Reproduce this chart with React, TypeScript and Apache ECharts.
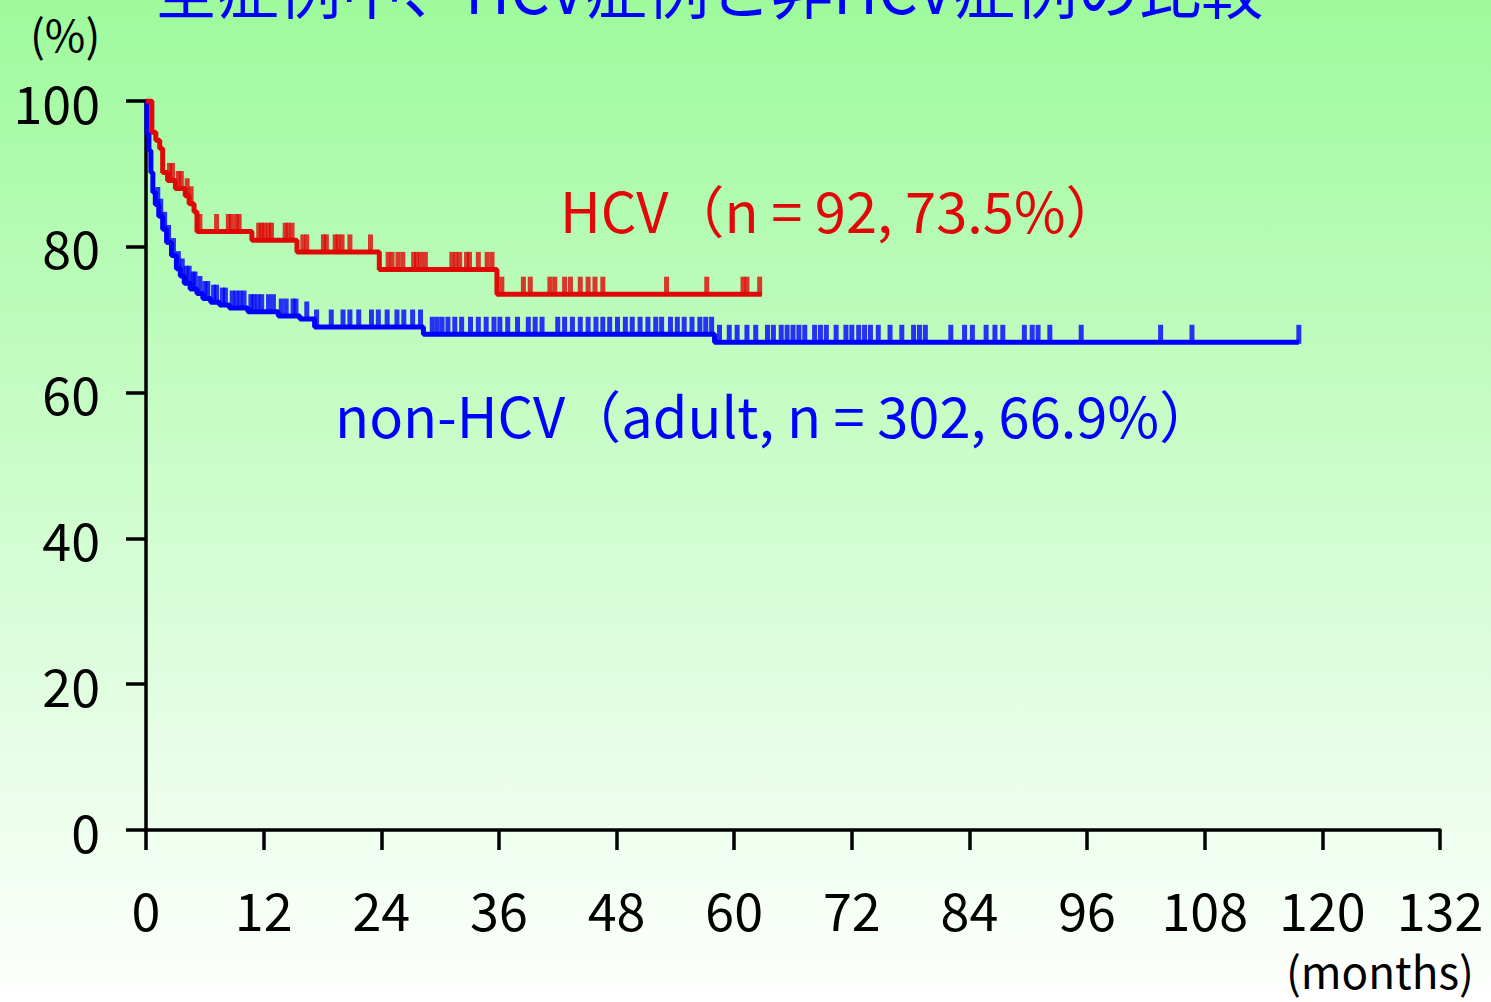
import React, { useEffect, useRef } from "react";
import * as echarts from "echarts";

// ---- data ----
const titleText = "全症例中、HCV症例と非HCV症例の比較";
const yUnitText = "(%)";
const xUnitText = "(months)";
const hcvLabel = "HCV（n = 92, 73.5%）";
const nonHcvLabel = "non-HCV（adult, n = 302, 66.9%）";

const xTickValues = [0, 12, 24, 36, 48, 60, 72, 84, 96, 108, 120, 132];
const yTickValues = [0, 20, 40, 60, 80, 100];

// Kaplan-Meier steps: [month, survival %] (value after the event at that month)
const hcvSteps: [number, number][] = [
  [0, 100], [0.6, 95.7], [1.0, 94.6], [1.4, 93.5], [1.7, 90.2], [2.2, 89.1],
  [3.0, 88.0], [4.0, 87.0], [4.4, 85.9], [4.9, 84.8], [5.2, 82.1], [10.8, 80.9],
  [15.4, 79.3], [23.8, 76.9], [35.8, 73.5], [62.8, 73.5],
];
const hcvCensored: number[] = [
  2.4, 2.7, 3.3, 3.6, 4.2, 4.6, 5.5, 7.2, 8.4, 8.7, 9.2, 9.5, 11.5, 11.8, 12.1,
  12.5, 12.8, 14.2, 14.5, 14.9, 16.0, 16.4, 18.1, 18.4, 19.3, 19.6, 20.0, 20.8,
  22.9, 24.7, 25.1, 25.7, 26.2, 27.3, 27.6, 28.0, 28.5, 31.2, 31.6, 32.0, 32.7,
  33.0, 33.9, 34.8, 35.3, 36.3, 38.5, 39.2, 41.2, 41.7, 42.7, 43.3, 44.3, 45.1,
  45.8, 46.6, 53.1, 57.2, 60.9, 61.3, 62.6,
];

const nonHcvSteps: [number, number][] = [
  [0, 100], [0.1, 95.5], [0.3, 93.2], [0.5, 90.2], [0.7, 87.5], [0.95, 85.8],
  [1.3, 84.2], [1.7, 82.4], [2.1, 80.6], [2.6, 78.8], [3.1, 77.0], [3.5, 76.0],
  [3.9, 75.0], [4.5, 74.2], [5.2, 73.6], [5.8, 72.9], [6.6, 72.4], [7.5, 72.0],
  [8.5, 71.6], [10.4, 71.1], [13.5, 70.5], [15.7, 70.1], [17.2, 69.0],
  [28.3, 68.0], [58.0, 66.9], [117.6, 66.9],
];
const nonHcvCensored: number[] = [
  1.2, 1.5, 1.9, 2.3, 2.8, 3.3, 3.7, 4.1, 4.4, 4.8, 5.0, 5.5, 6.0, 6.3, 6.9, 7.2,
  7.8, 8.1, 8.8, 9.2, 9.6, 10.0, 10.7, 11.0, 11.4, 11.8, 12.5, 13.0, 13.8, 14.3,
  15.0, 15.3, 16.4,
  17.4, 18.9, 20.1, 20.8, 21.7, 23.0, 23.7, 24.6, 25.6, 26.3, 27.2, 28.0,
  29.2, 29.7, 30.2, 30.8, 31.5, 32.2, 33.1, 33.9, 34.7, 35.5, 36.1, 36.9, 37.9,
  39.0, 39.7, 40.4, 42.0, 42.7, 43.5, 44.3, 45.1, 45.9, 46.6, 47.3, 48.1, 48.9,
  49.6, 50.4, 51.2, 52.0, 52.6, 53.5, 54.2, 54.9, 55.7, 56.5, 57.1, 57.7,
  58.5, 59.5, 60.3, 61.3, 62.2, 63.4, 64.0, 64.8, 65.4, 66.0, 66.6, 67.2, 68.2,
  68.8, 69.4, 70.4, 71.4, 72.0, 72.7, 73.3, 73.9, 74.7, 75.9, 77.1, 78.3, 78.9,
  79.5, 82.1, 83.5, 84.3, 85.7, 86.6, 87.4, 89.6, 90.4, 91.0, 92.2, 95.4, 103.5,
  106.7, 117.6,
];

const RED = "#e00808";
const BLUE = "#0000ff";
const CJK = "'Noto Sans CJK JP', sans-serif";

function survivalAt(steps: [number, number][], t: number): number {
  let s = steps[0][1];
  for (const [m, v] of steps) {
    if (m <= t) s = v;
    else break;
  }
  return s;
}

export default function App() {
  const ref = useRef<HTMLDivElement>(null);
  useEffect(() => {
    if (!ref.current) return;
    const chart = echarts.init(ref.current, undefined, { renderer: "svg" });
    const axisLine = { show: true, lineStyle: { color: "#000", width: 3.5 } };
    const axisTick = { show: true, length: 20, lineStyle: { color: "#000", width: 3.5 } };
    const censorSeries = (name: string, steps: [number, number][], times: number[], color: string) => ({
      name,
      type: "scatter",
      symbol: "rect",
      symbolSize: [5, 19],
      symbolOffset: [0, -8],
      itemStyle: { color },
      data: times.map((t) => [t, survivalAt(steps, t)]),
      z: 3,
    });
    chart.setOption({
      animation: false,
      grid: { left: 146, right: 51, top: 101, bottom: 172 },
      xAxis: {
        type: "value",
        min: 0,
        max: 132,
        interval: 12,
        axisLine,
        axisTick,
        splitLine: { show: false },
        axisLabel: {
          color: "#000",
          fontSize: 52,
          fontFamily: CJK,
          margin: 52,
          customValues: xTickValues,
        },
      },
      yAxis: {
        type: "value",
        min: 0,
        max: 100,
        interval: 20,
        axisLine,
        axisTick,
        splitLine: { show: false },
        axisLabel: {
          color: "#000",
          fontSize: 52,
          fontFamily: CJK,
          margin: 46,
          padding: [0, 0, 8, 0],
          customValues: yTickValues,
        },
      },
      graphic: [
        {
          type: "text",
          x: 155,
          y: -13,
          style: { text: titleText, fill: BLUE, fontSize: 62, fontFamily: CJK, verticalAlign: "middle", align: "left" },
        },
        {
          type: "text",
          x: 30,
          y: 33,
          style: { text: yUnitText, fill: "#000", fontSize: 44, fontFamily: CJK, verticalAlign: "middle", align: "left" },
        },
        {
          type: "text",
          x: 1286,
          y: 970,
          style: { text: xUnitText, fill: "#000", fontSize: 44, fontFamily: CJK, verticalAlign: "middle", align: "left" },
        },
        {
          type: "text",
          x: 560,
          y: 208,
          style: { text: hcvLabel, fill: RED, fontSize: 56, fontFamily: CJK, verticalAlign: "middle", align: "left" },
        },
        {
          type: "text",
          x: 335,
          y: 413,
          style: { text: nonHcvLabel, fill: BLUE, fontSize: 56, fontFamily: CJK, verticalAlign: "middle", align: "left" },
        },
      ],
      series: [
        {
          name: "non-HCV",
          type: "line",
          step: "end",
          showSymbol: false,
          lineStyle: { color: BLUE, width: 5 },
          data: nonHcvSteps,
          z: 2,
        },
        censorSeries("non-HCV censored", nonHcvSteps, nonHcvCensored, BLUE),
        {
          name: "HCV",
          type: "line",
          step: "end",
          showSymbol: false,
          lineStyle: { color: RED, width: 5 },
          data: hcvSteps,
          z: 4,
        },
        { ...censorSeries("HCV censored", hcvSteps, hcvCensored, RED), z: 5 },
      ],
    });
    return () => chart.dispose();
  }, []);
  return (
    <div
      ref={ref}
      style={{
        position: "absolute",
        left: 0,
        top: 0,
        width: 1491,
        height: 1002,
        background: "linear-gradient(to bottom, rgb(158,250,156) 0%, rgb(255,255,255) 100%)",
      }}
    />
  );
}
